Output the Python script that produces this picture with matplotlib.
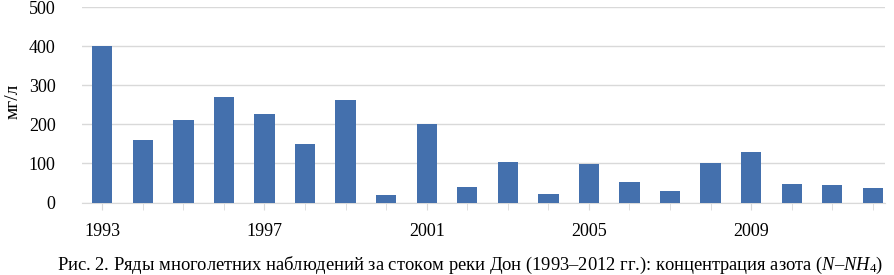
import numpy as np
import matplotlib.pyplot as plt

plt.rcParams['font.family'] = ['Liberation Serif', 'DejaVu Serif']
plt.rcParams['mathtext.fontset'] = 'custom'
plt.rcParams['mathtext.rm'] = 'Liberation Serif'
plt.rcParams['mathtext.it'] = 'Liberation Serif:italic'

years = list(range(1993, 2013))
values = [400, 160, 211, 270, 226, 150, 262, 20, 202, 40,
          104, 22, 98, 52, 30, 102, 130, 47, 45, 38]
tick_years = [1993, 1997, 2001, 2005, 2009]

fig = plt.figure(figsize=(8.95, 2.75), dpi=100)
ax = fig.add_axes([82 / 895, 72.5 / 275, 803 / 895, 195.2 / 275])

x = np.arange(len(years))
ax.bar(x, values, width=0.5, color='#4470ad', zorder=3)

ax.set_ylim(0, 500)
ax.set_yticks(range(0, 501, 100))
ax.set_xlim(-0.5, 19.3)
ax.set_xticks(x, minor=True)
ax.set_xticks([years.index(y) for y in tick_years])
ax.set_xticklabels([str(y) for y in tick_years])
ax.tick_params(axis='x', which='both', length=5, color='#d9d9d9', labelsize=13, pad=10)
ax.tick_params(axis='y', length=0, labelsize=13, pad=19)
ax.grid(axis='y', color='#d9d9d9', linewidth=1, zorder=0)
for s in ['top', 'right', 'left']:
    ax.spines[s].set_visible(False)
ax.spines['bottom'].set_color('#d9d9d9')

fig.text(13 / 895, 1 - 101 / 275, 'мг/л', rotation=90, ha='center', va='center', fontsize=14)
fig.text(470 / 895, 1 - 265 / 275,
         'Рис. 2. Ряды многолетних наблюдений за стоком реки Дон (1993–2012 гг.): концентрация азота ($N$–$NH_4$)',
         ha='center', va='center', fontsize=13.3)

fig.savefig('out.png', dpi=100)
